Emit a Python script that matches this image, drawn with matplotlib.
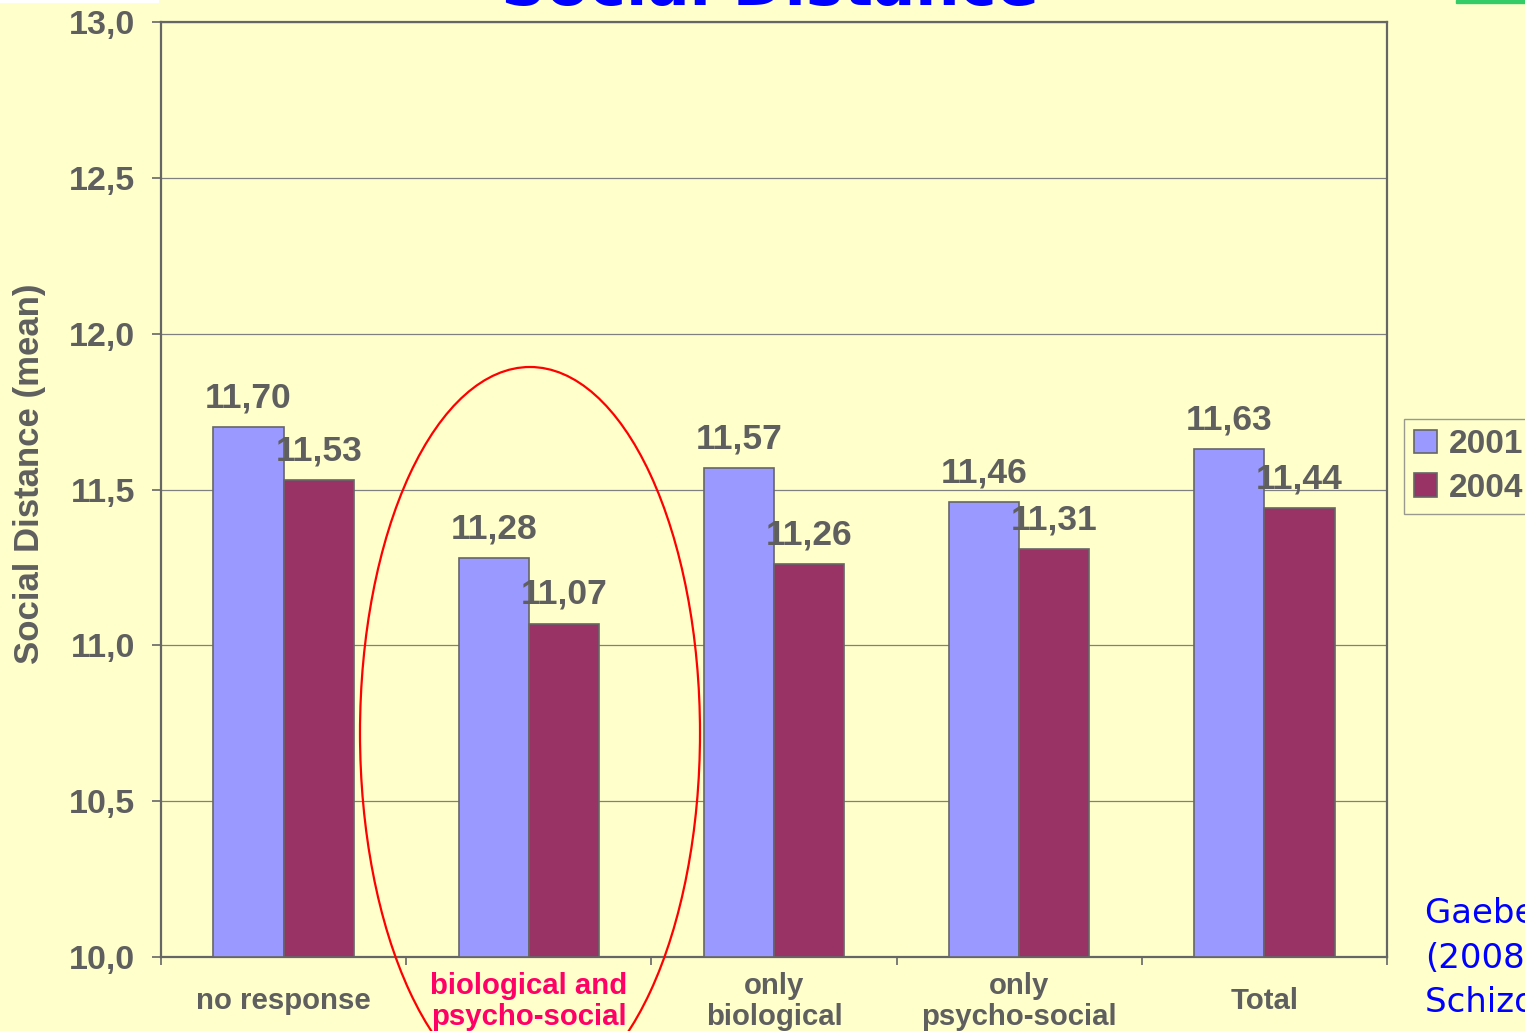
import numpy as np
import matplotlib
matplotlib.use("Agg")
import matplotlib.pyplot as plt
from matplotlib.patches import Ellipse, Rectangle
from matplotlib.ticker import FuncFormatter

# values
categories = ["no response", "biological and\npsycho-social", "only\nbiological",
              "only\npsycho-social", "Total"]
years = ["2001", "2004"]
vals_2001 = [11.70, 11.28, 11.57, 11.46, 11.63]
vals_2004 = [11.53, 11.07, 11.26, 11.31, 11.44]
value_labels_2001 = ["11,70", "11,28", "11,57", "11,46", "11,63"]
value_labels_2004 = ["11,53", "11,07", "11,26", "11,31", "11,44"]
y_ticks = [10.0, 10.5, 11.0, 11.5, 12.0, 12.5, 13.0]
citation = ["Gaebel et al.", "(2008)", "Schizophr Res", "98: 184-193"]

bg = "#FFFFCC"
gray = "#5F5F5F"
blue = "#9999FF"
maroon = "#993366"
ff = "Liberation Sans"

fig = plt.figure(figsize=(15.25, 10.31), dpi=100, facecolor=bg)
ax = fig.add_axes([161/1525, 1 - 957/1031, (1387-161)/1525, (957-22)/1031])
ax.set_facecolor(bg)

x = np.arange(len(categories))
w = 0.286
b1 = ax.bar(x - w/2, np.array(vals_2001) - 10, w, bottom=10, color=blue,
            edgecolor="#666666", linewidth=1.2, label=years[0], zorder=3)
b2 = ax.bar(x + w/2, np.array(vals_2004) - 10, w, bottom=10, color=maroon,
            edgecolor="#666666", linewidth=1.2, label=years[1], zorder=3)

# value labels above bars
for xi, v, s in zip(x - w/2, vals_2001, value_labels_2001):
    ax.annotate(s, (xi, v), xytext=(0, 21), textcoords="offset points",
                ha="center", va="center", fontsize=25.5, fontweight="bold",
                color=gray, family=ff, zorder=4)
for xi, v, s in zip(x + w/2, vals_2004, value_labels_2004):
    ax.annotate(s, (xi, v), xytext=(0, 21), textcoords="offset points",
                ha="center", va="center", fontsize=25.5, fontweight="bold",
                color=gray, family=ff, zorder=4)

ax.set_xlim(-0.5, len(categories) - 0.5)
ax.set_ylim(10.0, 13.0)
ax.set_yticks(y_ticks)
ax.yaxis.set_major_formatter(FuncFormatter(lambda v, p: f"{v:.1f}".replace(".", ",")))
ax.yaxis.grid(True, color="#808080", linewidth=0.9)
ax.set_axisbelow(True)

ax.set_xticks(np.arange(len(categories) + 1) - 0.5)
ax.set_xticklabels([])
ax.set_xticks(x, minor=True)
ax.set_xticklabels(categories, minor=True)
ax.tick_params(axis="x", which="major", direction="out", length=6, width=1.2, color="#666666")
ax.tick_params(axis="x", which="minor", length=0, pad=32)
ax.tick_params(axis="y", direction="out", length=6.5, width=1.2, color="#666666", pad=12)

for lbl in ax.get_xticklabels(minor=True):
    lbl.set_va("center")
    lbl.set_fontsize(21.2)
    lbl.set_fontweight("bold")
    lbl.set_family(ff)
    lbl.set_color(gray)
    lbl.set_linespacing(1.15)
ax.get_xticklabels(minor=True)[1].set_color("#FF0066")
for lbl in ax.get_yticklabels():
    lbl.set_fontsize(24.5)
    lbl.set_fontweight("bold")
    lbl.set_family(ff)
    lbl.set_color(gray)

for sp in ax.spines.values():
    sp.set_color("#666666")
    sp.set_linewidth(1.6)

ax.set_ylabel("Social Distance (mean)", fontsize=25, fontweight="bold",
              color=gray, family=ff)
ax.yaxis.set_label_coords(-0.0935, 0.517)

leg = ax.legend(handles=[b1, b2], loc="upper left",
                bbox_to_anchor=(1404/1525, 1 - 419/1031), bbox_transform=fig.transFigure,
                borderaxespad=0, fancybox=False, frameon=True, facecolor=bg,
                edgecolor="#808080", handlelength=0.7, handleheight=0.7,
                handletextpad=0.35, labelspacing=0.38, borderpad=0.3,
                prop={"family": ff, "weight": "bold", "size": 24})
for t in leg.get_texts():
    t.set_color(gray)
leg.get_frame().set_linewidth(1.0)

# title, mostly cut off at the top of the crop
fig.text(0.505, 1 - 5/1031, "Social Distance", ha="center", va="baseline",
         fontsize=45, fontweight="bold", color="#0000FF", family="DejaVu Sans")

# citation on the right, cut off
for i, line in enumerate(citation):
    fig.text(1425/1525, 1 - (923 + i*44.5)/1031, line, ha="left", va="baseline",
             fontsize=24.5, color="#0000FF", family="DejaVu Sans")

# red ellipse around the highlighted group
fig.add_artist(Ellipse((530/1525, 1 - 733/1031), 340/1525, 732/1031,
                       transform=fig.transFigure, fill=False, edgecolor="red",
                       linewidth=1.6, zorder=10))

# bits of slide decoration at the edges
fig.add_artist(Rectangle((1456/1525, 1 - 3/1031), 69/1525, 3/1031,
                         transform=fig.transFigure, color="#33CC66", zorder=10))
fig.add_artist(Rectangle((0, 1 - 2/1031), 158/1525, 2/1031,
                         transform=fig.transFigure, color="white", zorder=10))

fig.savefig("out.png", dpi=100, facecolor=bg)
